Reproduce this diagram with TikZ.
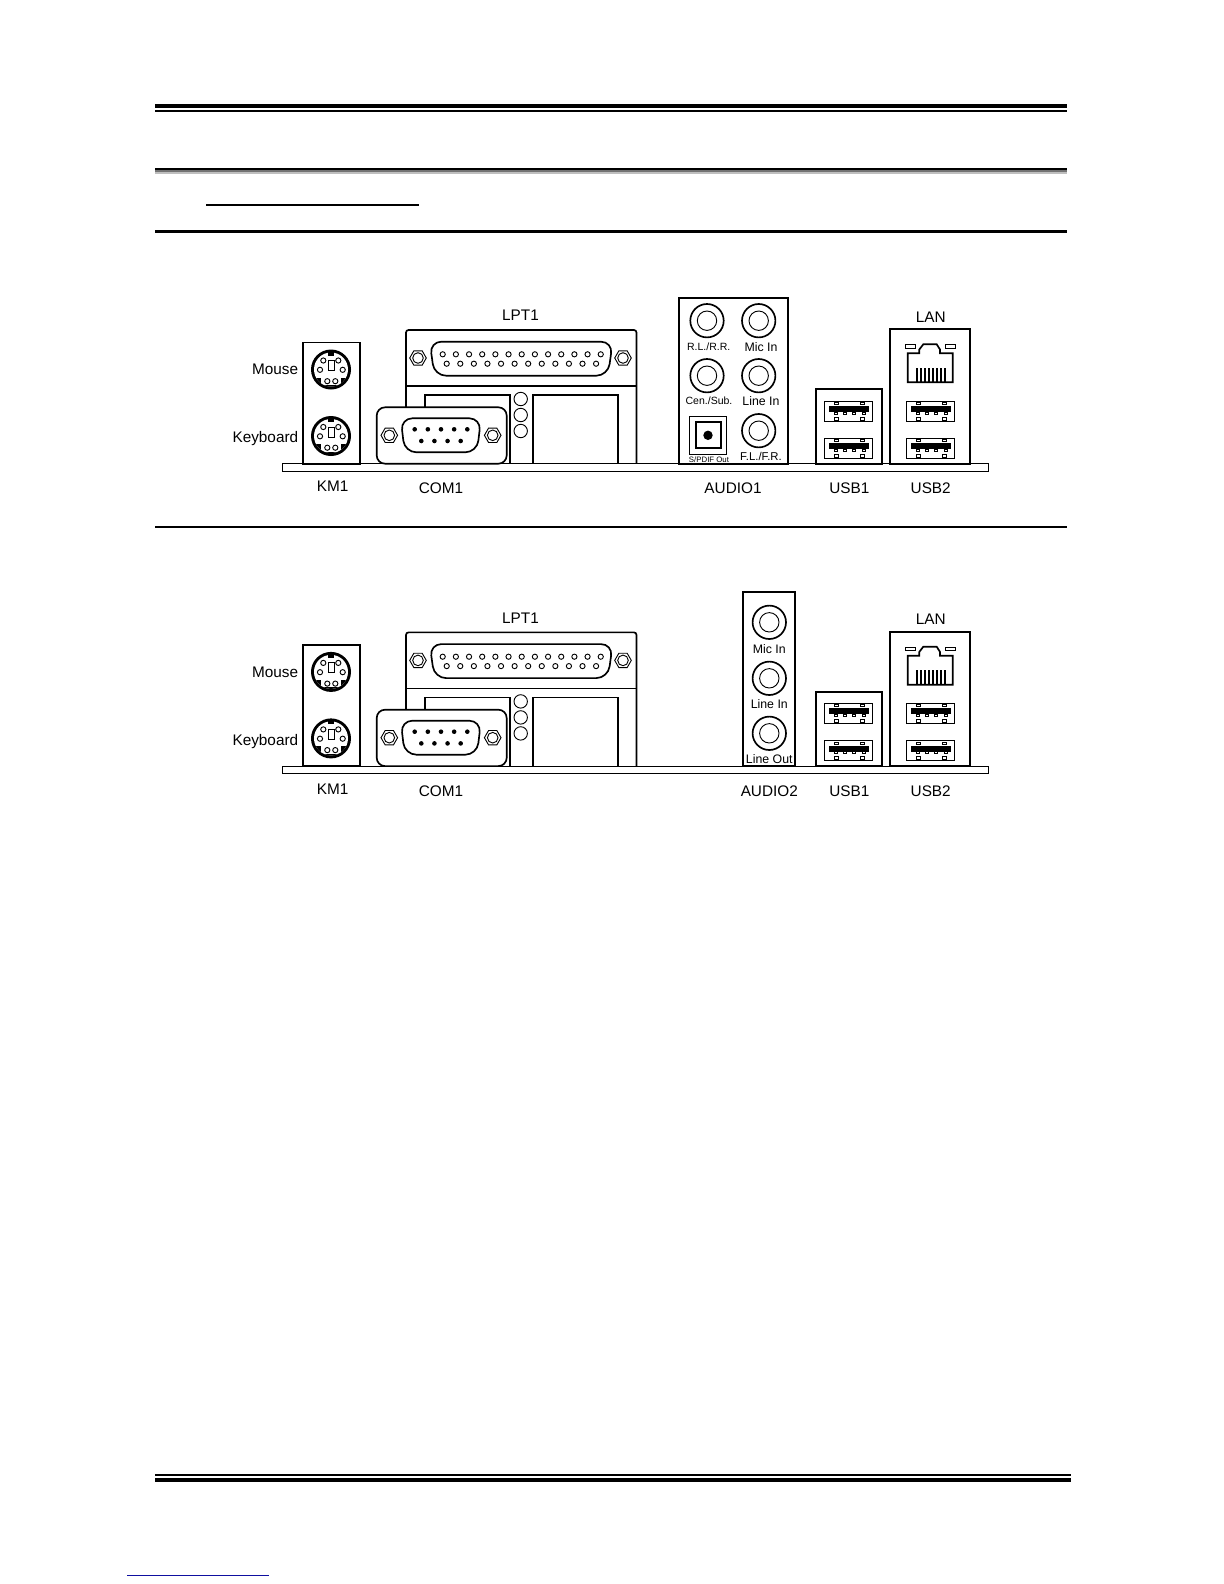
\documentclass[tikz,border=0pt]{standalone}
\usepackage{fontspec}
\setmainfont{Liberation Sans}
\usepackage{tikz}
\definecolor{linkblue}{RGB}{15,15,160}
\definecolor{rulegray}{gray}{0.45}
\definecolor{rulelight}{gray}{0.75}
\tikzset{
	box/.style={line width=1pt},
	thinbox/.style={line width=0.55pt},
	biglabel/.style={font=\fontsize{9.2}{10}\selectfont, inner sep=0pt},
	jacklabel/.style={font=\fontsize{7.4}{8}\selectfont, inner sep=0pt},
	smalllabel/.style={font=\fontsize{6.3}{7}\selectfont, inner sep=0pt},
	tinylabel/.style={font=\fontsize{4.7}{5}\selectfont, inner sep=0pt},
}

\begin{document}
\begin{tikzpicture}[x=0.6pt, y=-0.6pt]

\useasboundingbox (0,0) rectangle (1224,1584);

\def \xstripl{282.3}
\def \xstripr{988}
\def \xbase{463.7}

\newcommand{\xjack}[2]{
	\draw[line width=1pt] (#1, #2) circle (16.7);
	\draw[thinbox] (#1, #2) circle (9.7);
}
\newcommand{\xscrew}[2]{
	\draw[thinbox] ([shift={(#1,#2)}]0:8.3) -- ([shift={(#1,#2)}]60:8.3) -- ([shift={(#1,#2)}]120:8.3) -- ([shift={(#1,#2)}]180:8.3) -- ([shift={(#1,#2)}]240:8.3) -- ([shift={(#1,#2)}]300:8.3) -- cycle;
	\draw[thinbox] (#1, #2) circle (5.3);
}
\newcommand{\xmini}[2]{
	\fill (#1, #2) circle (20);
	\fill[white] (#1, #2) circle (17);
	\begin{scope}
		\clip (#1, #2) circle (17);
		\fill ([shift={(#1,#2)}]-18, 8) rectangle ([shift={(#1,#2)}]-10, 18);
		\fill ([shift={(#1,#2)}]10, 8) rectangle ([shift={(#1,#2)}]18, 18);
		\fill ([shift={(#1,#2)}]-11, 15.5) rectangle ([shift={(#1,#2)}]11, 18);
	\end{scope}
	\fill ([shift={(#1,#2)}]-3, -19) rectangle ([shift={(#1,#2)}]3, -14);
	\draw[thinbox] ([shift={(#1,#2)}]-3, -9) rectangle ([shift={(#1,#2)}]3, 1);
	\foreach \xa/\xb in {-7.7/-9, 7.3/-9, -11/0.3, 11.7/0.3, -3.7/11.7, 4.3/11.7} {
		\draw[thinbox] ([shift={(#1,#2)}]\xa, \xb) circle (2.6);
	}
}
\newcommand{\xusb}[2]{
	\draw[thinbox] (#1, #2) rectangle ++(48.4, 20);
	\fill ([shift={(#1,#2)}]5, 5) rectangle ([shift={(#1,#2)}]45, 11);
	\foreach \xa in {10, 36.5} {
		\draw[thinbox] ([shift={(#1,#2)}]\xa, 1.5) rectangle ++(4, 2);
		\draw[thinbox] ([shift={(#1,#2)}]\xa, 16) rectangle ++(4, 3);
	}
	\foreach \xa in {10, 19, 28, 38} {
		\draw[thinbox] ([shift={(#1,#2)}]\xa, 11) rectangle ++(3, 2);
	}
}

% rules of the page
\fill (155, 104) rectangle (1066.5, 108);
\fill (155, 110) rectangle (1066.5, 112);
\fill (155, 168) rectangle (1066.5, 170);
\fill[rulegray] (155, 170) rectangle (1066.5, 172);
\fill[rulelight] (155, 172) rectangle (1066.5, 174);
\fill (206, 204) rectangle (419, 206);
\fill (155, 230) rectangle (1066.5, 233);
\fill (155, 526) rectangle (1066.5, 528);
\fill (155, 1474) rectangle (1070.5, 1476);
\fill (155, 1478) rectangle (1070.5, 1482);
\fill[linkblue] (127, 1574.5) rectangle (269, 1575.5);

\foreach \xp/\xdy in {a/0, b/302.4} {
\begin{scope}[shift={(0,\xdy)}]

	\draw[thinbox] (\xstripl, \xbase) rectangle (\xstripr, 471.3); % strip

	% KM1
	\draw[box] (303.3, \xbase) rectangle (360, 342.5);
	\xmini{331}{369.5}
	\xmini{331}{436}
	\node[biglabel, anchor=east] (mouse \xp) at (298.5, 369.5) {Mouse};
	\node[biglabel, anchor=east] (keyboard \xp) at (298.5, 439) {Keyboard};
	\node[biglabel] (km \xp) at (332.7, 486.7) {KM1};

	% LPT1
	\draw[box, rounded corners=1.5] (406, \xbase) -- (406, 330) -- (636.5, 330) -- (636.5, \xbase);
	\draw[box] (406, 386) -- (636.5, 386);
	\draw[box] (425, \xbase) -- (425, 395) -- (510, 395) -- (510, \xbase);
	\draw[box] (532.7, \xbase) -- (532.7, 395) -- (617.7, 395) -- (617.7, \xbase);
	\draw[box, rounded corners=7] (429.7, 341.7) -- (612.7, 341.7) -- (608, 375.7) -- (434.4, 375.7) -- cycle;
	\xscrew{418}{358}
	\xscrew{623}{358}
	\foreach \x in {0, 1, ..., 12} {
		\draw[thinbox] (442.7 + \x * 13.17, 354.3) circle (2.6);
	}
	\foreach \x in {0, 1, ..., 11} {
		\draw[thinbox] (446.7 + \x * 13.58, 363.7) circle (2.6);
	}
	\foreach \y in {399, 415, 431} {
		\draw[thinbox] (520.7, \y) circle (6.7);
	}
	\node[biglabel] (lpt \xp) at (520.5, 315.5) {LPT1};

	% COM1
	\draw[box, fill=white, rounded corners=5] (376.7, \xbase) -- (376.7, 407.3) -- (506.7, 407.3) -- (506.7, \xbase) -- cycle;
	\draw[box, rounded corners=7] (400.7, 418.3) -- (481, 418.3) -- (477, 452.3) -- (404.7, 452.3) -- cycle;
	\xscrew{389.3}{435.3}
	\xscrew{492.7}{435.3}
	\foreach \x in {0, 1, ..., 4} {
		\fill (414.7 + \x * 13.15, 429.3) circle (2.3);
	}
	\foreach \x in {0, 1, 2, 3} {
		\fill (421.3 + \x * 13.13, 441) circle (2.3);
	}
	\node[biglabel] (com \xp) at (441, 488.7) {COM1};

	% USB1
	\draw[box] (816.3, \xbase) rectangle (881.7, 389.3);
	\xusb{824.3}{401}
	\xusb{824.3}{438.3}
	\node[biglabel] (usba \xp) at (849.3, 488.7) {USB1};

	% USB2
	\draw[box] (890.3, \xbase) rectangle (970, 329.3);
	\xusb{906.3}{401}
	\xusb{906.3}{438.3}
	\node[biglabel] (usbb \xp) at (930.7, 488.7) {USB2};

	% LAN
	\draw[box] (907.7, 353.3) -- (919.3, 353.3) -- (919.3, 349.5) -- (923.3, 344.3) -- (936.7, 344.3) -- (940, 349.5) -- (940, 353.3) -- (952.7, 353.3) -- (952.7, 382.3) -- (907.7, 382.3) -- cycle;
	\draw[thinbox] (905.7, 344.7) rectangle (915.7, 348.3);
	\draw[thinbox] (945.7, 344.7) rectangle (955, 348.3);
	\foreach \x in {0, 1, ..., 7} {
		\fill (915.5 + \x * 4.1, 367.7) rectangle ++(2, 14.6);
	}
	\node[biglabel] (lan \xp) at (930.7, 316.8) {LAN};

\end{scope}
}

% AUDIO1
\draw[box] (679, \xbase) rectangle (787.7, 297.7);
\xjack{707}{320.7}
\xjack{758.7}{320.7}
\xjack{707}{375.7}
\xjack{758.7}{375.7}
\xjack{758.7}{430.7}
\draw[thinbox] (689.3, 416.3) rectangle (726.7, 454);
\draw[line width=1.2pt] (695.7, 422) rectangle (720.7, 447.7);
\fill (708, 435.3) circle (4.7);
\node[smalllabel] (rear) at (708.7, 347) {R.L./R.R.};
\node[jacklabel] (mic a) at (761, 347) {Mic In};
\node[smalllabel] (center) at (709, 401) {Cen./Sub.};
\node[jacklabel] (line a) at (761, 401) {Line In};
\node[font=\fontsize{6.8}{7}\selectfont, inner sep=0pt] (front) at (761, 456.5) {F.L./F.R.};
\node[tinylabel] (spdif) at (709, 459.5) {S/PDIF Out};
\node[biglabel] (audio a) at (733, 488.7) {AUDIO1};

% AUDIO2
\draw[box] (743, 766.1) rectangle (795.3, 592.3);
\xjack{769.3}{622.3}
\xjack{769.3}{678.3}
\xjack{769.3}{733.3}
\node[jacklabel] (mic b) at (769.3, 649.3) {Mic In};
\node[jacklabel] (line b) at (769.3, 704) {Line In};
\node[jacklabel] (lineout) at (769.3, 758.7) {Line Out};
\node[biglabel] (audio b) at (769.3, 791.1) {AUDIO2};

\end{tikzpicture}
\end{document}
